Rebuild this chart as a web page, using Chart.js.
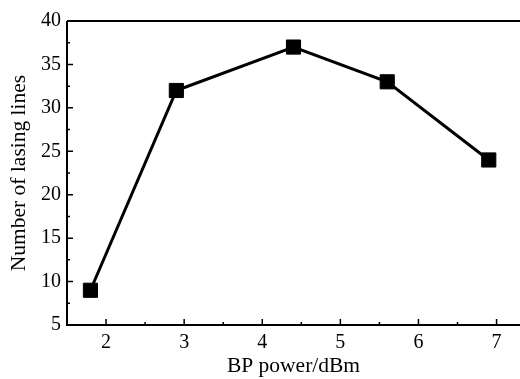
<!DOCTYPE html>
<html>
<head>
<meta charset="utf-8">
<script src="https://cdn.jsdelivr.net/npm/chart.js@4/dist/chart.umd.min.js"></script>
<style>
  html, body { margin: 0; padding: 0; background: #fff; }
  #wrap { width: 520px; height: 379px; }
</style>
</head>
<body>
<div id="wrap"><canvas id="chart"></canvas></div>
<script>
// data
const bpPower = [1.8, 2.9, 4.4, 5.6, 6.9];
const lasingLines = [9, 32, 37, 33, 24];
const xTicks = [2, 3, 4, 5, 6, 7];
const yTicks = [5, 10, 15, 20, 25, 30, 35, 40];

const FONT = "'Liberation Serif', 'Times New Roman', serif";

// draws the frame and the inward ticks, like an Origin plot
const framePlugin = {
    id: 'frame',
    afterDatasetsDraw(chart) {
        const { ctx, chartArea: a, scales: { x, y } } = chart;
        ctx.save();
        ctx.strokeStyle = '#000';
        ctx.lineWidth = 2;
        ctx.beginPath();
        ctx.moveTo(a.left, a.top);
        ctx.lineTo(a.right, a.top);
        ctx.moveTo(a.left, a.top);
        ctx.lineTo(a.left, a.bottom);
        ctx.lineTo(a.right, a.bottom);
        ctx.stroke();

        ctx.lineWidth = 1.5;
        ctx.beginPath();
        for (let v = 2; v <= 7.3; v += 0.5) {
            const px = x.getPixelForValue(v);
            const len = Number.isInteger(v) ? 6 : 3;
            ctx.moveTo(px, a.bottom);
            ctx.lineTo(px, a.bottom - len);
        }
        for (let v = 7.5; v < 40; v += 2.5) {
            const py = y.getPixelForValue(v);
            const len = (v % 5 === 0) ? 6 : 3;
            ctx.moveTo(a.left, py);
            ctx.lineTo(a.left + len, py);
        }
        ctx.stroke();
        ctx.restore();
    }
};

new Chart(document.getElementById('chart'), {
    type: 'line',
    data: {
        datasets: [{
            data: bpPower.map((v, i) => ({ x: v, y: lasingLines[i] })),
            borderColor: '#000',
            borderWidth: 3,
            backgroundColor: '#000',
            pointStyle: 'rect',
            pointRadius: 10,
            pointBorderWidth: 1,
            pointBorderColor: '#000',
            tension: 0
        }]
    },
    options: {
        responsive: true,
        maintainAspectRatio: false,
        animation: false,
        clip: false,
        layout: { autoPadding: false, padding: { top: 21, right: 0, left: 0, bottom: 0 } },
        plugins: { legend: { display: false }, tooltip: { enabled: false } },
        scales: {
            x: {
                type: 'linear',
                min: 1.5,
                max: 7.3,
                border: { display: false },
                grid: { display: false, drawTicks: false },
                afterBuildTicks: s => { s.ticks = xTicks.map(v => ({ value: v })); },
                afterFit: s => { s.height = 54; s.paddingLeft = 0; s.paddingRight = 0; },
                ticks: { color: '#000', padding: 6, font: { family: FONT, size: 20 } },
                title: {
                    display: true,
                    text: 'BP power/dBm',
                    color: '#000',
                    padding: { top: 0, bottom: 0 },
                    font: { family: FONT, size: 21.5 }
                }
            },
            y: {
                min: 5,
                max: 40,
                border: { display: false },
                grid: { display: false, drawTicks: false },
                afterBuildTicks: s => { s.ticks = yTicks.map(v => ({ value: v })); },
                afterFit: s => { s.width = 67; s.paddingTop = 0; s.paddingBottom = 0; },
                ticks: { color: '#000', padding: 6, font: { family: FONT, size: 20 } },
                title: {
                    display: true,
                    text: 'Number of lasing lines',
                    color: '#000',
                    padding: { top: 6, bottom: 0 },
                    font: { family: FONT, size: 21.5 }
                }
            }
        }
    },
    plugins: [framePlugin]
});
</script>
</body>
</html>
